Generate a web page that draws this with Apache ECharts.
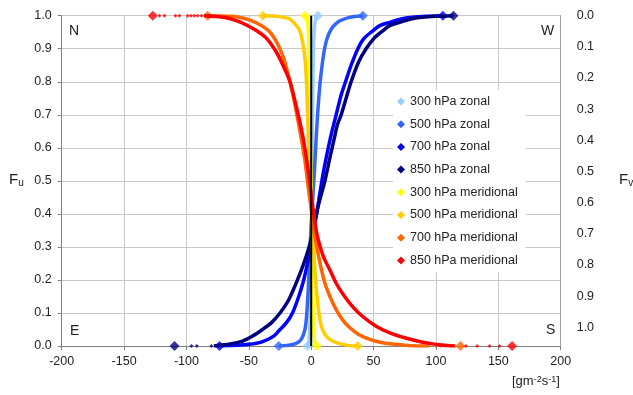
<!DOCTYPE html>
<html>
<head>
<meta charset="utf-8">
<script src="https://cdn.jsdelivr.net/npm/echarts@6/dist/echarts.min.js"></script>
<style>
  html, body { margin: 0; padding: 0; background: #fff; }
  #chart { width: 633px; height: 395px; }
</style>
</head>
<body>
<div id="chart"></div>
<script>
// series names + colours (legend order)
const names = ['300 hPa zonal', '500 hPa zonal', '700 hPa zonal', '850 hPa zonal',
  '300 hPa meridional', '500 hPa meridional', '700 hPa meridional', '850 hPa meridional']
const colors = ['#99CCFF', '#3366FF', '#0000FF', '#000080', '#FFFF00', '#FFCC00', '#FF6600', '#FF0000']

// cumulative curves, [flux, F]  (zonal rising, meridional falling)
const zonal300 = [[-3, 0], [-2, 0.01], [-1.2, 0.05], [-0.5, 0.15], [0, 0.3], [0.6, 0.5], [1.2, 0.75], [2, 0.92], [3, 0.98], [4, 0.995], [5.3, 1]]
const zonal500 = [[-26, 0], [-18, 0.002], [-12, 0.008], [-8, 0.02], [-5, 0.05], [-3.5, 0.1], [-2, 0.2], [-0.5, 0.33], [1, 0.43], [2.6, 0.53], [4, 0.63], [5.3, 0.71], [7.2, 0.8], [10.7, 0.9], [14.7, 0.95], [21, 0.98], [30.7, 0.995], [41.4, 1]]
const zonal700 = [[-73.5, 0], [-60, 0.002], [-50, 0.005], [-40, 0.012], [-30, 0.03], [-25, 0.05], [-20, 0.07], [-15, 0.1], [-10, 0.15], [-6, 0.2], [-3, 0.25], [0, 0.3], [3, 0.37], [6, 0.44], [9, 0.51], [12, 0.57], [16, 0.64], [20, 0.7], [24, 0.76], [27.5, 0.8], [32, 0.85], [37.4, 0.9], [42, 0.93], [48, 0.95], [55, 0.97], [63, 0.98], [72, 0.99], [81, 0.995], [92, 0.998], [105.5, 1]]
const zonal850 = [[-78, 0], [-65, 0.006], [-55, 0.015], [-47, 0.03], [-39, 0.05], [-32, 0.07], [-25, 0.1], [-18, 0.14], [-11, 0.2], [-5, 0.26], [-1, 0.31], [2, 0.36], [6, 0.43], [11, 0.5], [15, 0.57], [18, 0.62], [21, 0.67], [24, 0.7], [28, 0.75], [32, 0.8], [38, 0.86], [44, 0.9], [50, 0.93], [56, 0.95], [63, 0.97], [71, 0.98], [80, 0.99], [89, 0.995], [100, 0.998], [114, 1]]
const merid300 = [[-5, 1], [-3.5, 0.995], [-2.5, 0.97], [-1.8, 0.9], [-1, 0.7], [0, 0.5], [0.8, 0.3], [1.5, 0.12], [2.2, 0.04], [3, 0.01], [4.5, 0]]
const merid500 = [[-38.8, 1], [-30, 0.999], [-22, 0.995], [-17, 0.99], [-13, 0.975], [-10, 0.96], [-8, 0.94], [-6, 0.9], [-4.5, 0.85], [-3.3, 0.75], [-2.2, 0.62], [-1, 0.5], [0.5, 0.4], [2, 0.3], [3.5, 0.2], [5.5, 0.12], [7, 0.08], [9, 0.05], [12, 0.03], [15, 0.02], [20, 0.01], [25, 0.005], [31, 0.001], [37.4, 0]]
const merid700 = [[-83, 1], [-63, 0.998], [-55, 0.993], [-48, 0.985], [-40, 0.97], [-33, 0.95], [-27, 0.915], [-22, 0.87], [-17, 0.8], [-13, 0.73], [-9, 0.65], [-5, 0.56], [-2, 0.47], [0.5, 0.4], [2.6, 0.34], [5, 0.29], [8, 0.235], [11, 0.19], [15, 0.15], [20, 0.11], [25, 0.08], [31, 0.055], [38, 0.035], [47, 0.02], [57, 0.01], [68, 0.005], [80, 0.001], [95, 0]]
const merid850 = [[-86, 1], [-70, 0.995], [-60, 0.985], [-52, 0.972], [-44, 0.955], [-36, 0.932], [-28, 0.89], [-22, 0.845], [-17, 0.8], [-11, 0.71], [-6, 0.62], [-2, 0.52], [1, 0.43], [4.5, 0.34], [8, 0.29], [11, 0.26], [15, 0.23], [20, 0.19], [25, 0.16], [33, 0.12], [41, 0.09], [52, 0.06], [63, 0.04], [75, 0.025], [85, 0.015], [95, 0.008], [105, 0.003], [115, 0]]
const curves = [zonal300, zonal500, zonal700, zonal850, merid300, merid500, merid700, merid850]

// extreme values (big diamonds)
const leftEnds = [-3, -26, -73.5, -109.6, -5, -38.8, -83, -127]
const rightEnds = [5.3, 41.4, 105.5, 114, 4.5, 37.4, 119.7, 161]

// sparse tail points (small markers)
const tailsLeft = [[], [], [], [-96, -91.7, -80], [], [], [], [-121.6, -117.6, -108.8, -105.6, -99, -96.3, -93.7, -91, -88]]
const tailsRight = [[], [], [], [], [], [], [100, 104, 108, 112, 115], [124, 133, 143, 151]]

const font = "'Liberation Sans', Arial, sans-serif"
const txt = '#222'

const chart = echarts.init(document.getElementById('chart'), null, { renderer: 'canvas' })

let series = []
curves.forEach((c, i) => {
  const zonal = i < 4
  series.push({
    name: names[i],
    type: 'line',
    data: c,
    smooth: 0.25,
    showSymbol: false,
    lineStyle: { width: 3.5, color: colors[i] },
    itemStyle: { color: colors[i] },
    z: 3 + i
  })
  // tails: y is 0 on the left for zonal, 1 for meridional
  const yl = zonal ? 0 : 1
  const yr = zonal ? 1 : 0
  let dots = tailsLeft[i].map(x => [x, yl]).concat(tailsRight[i].map(x => [x, yr]))
  series.push({
    name: names[i],
    type: 'scatter',
    symbol: 'diamond',
    symbolSize: 4,
    data: dots,
    itemStyle: { color: colors[i] },
    z: 3 + i
  })
  series.push({
    name: names[i],
    type: 'scatter',
    symbol: 'diamond',
    symbolSize: 10,
    data: [[leftEnds[i], yl], [rightEnds[i], yr]],
    itemStyle: { color: colors[i] },
    z: 3 + i
  })
})
// black zero line
series.push({
  type: 'line',
  data: [[0, 0], [0, 1]],
  showSymbol: false,
  silent: true,
  lineStyle: { width: 2, color: '#000' },
  z: 20
})

const option = {
  animation: false,
  textStyle: { fontFamily: font },
  grid: { left: 61.7, right: 72.3, top: 15.7, bottom: 49 },
  legend: {
    data: names.map(n => ({ name: n, icon: 'diamond' })),
    orient: 'vertical',
    left: 393,
    top: 90,
    padding: [5, 8, 5, 4],
    itemWidth: 8,
    itemHeight: 8,
    itemGap: 9.7,
    backgroundColor: '#fff',
    textStyle: { fontSize: 12.5, color: txt, fontFamily: font },
    selectedMode: false
  },
  xAxis: {
    type: 'value',
    min: -200,
    max: 200,
    interval: 50,
    axisLine: { show: true, onZero: false, lineStyle: { color: '#808080', width: 1 } },
    axisTick: { show: true, length: 4, lineStyle: { color: '#808080' } },
    axisLabel: { fontSize: 12.5, color: txt, margin: 9, fontFamily: font },
    splitLine: { show: true, lineStyle: { color: '#c8c8c8', width: 1 } }
  },
  yAxis: [{
    type: 'value',
    min: 0,
    max: 1,
    interval: 0.1,
    axisLine: { show: true, onZero: false, lineStyle: { color: '#808080' } },
    axisTick: { show: true, length: 4, lineStyle: { color: '#808080' } },
    axisLabel: { fontSize: 12.5, color: txt, margin: 10, fontFamily: font, formatter: v => v.toFixed(1) },
    splitLine: { show: true, lineStyle: { color: '#c8c8c8', width: 1 } }
  }, {
    type: 'value',
    position: 'right',
    inverse: true,
    min: 0,
    max: 1.06,
    interval: 0.1,
    axisLine: { show: true, onZero: false, lineStyle: { color: '#a0a0a0' } },
    axisTick: { show: false },
    axisLabel: { fontSize: 12.5, color: txt, margin: 16, fontFamily: font,
      formatter: v => (v > 1.001 ? '' : v.toFixed(1)) },
    splitLine: { show: false }
  }],
  graphic: [
    { type: 'text', left: 9, top: 172, style: { text: '{f|F}{s|u}', rich: { f: { fontSize: 15, fontFamily: font, fill: txt, lineHeight: 18 }, s: { fontSize: 10, fontFamily: font, fill: txt, verticalAlign: 'bottom', lineHeight: 12 } } } },
    { type: 'text', left: 619, top: 172, style: { text: '{f|F}{s|v}', rich: { f: { fontSize: 15, fontFamily: font, fill: txt, lineHeight: 18 }, s: { fontSize: 10, fontFamily: font, fill: txt, verticalAlign: 'bottom', lineHeight: 12 } } } },
    { type: 'text', left: 69, top: 24, style: { text: 'N', fontSize: 14, fontFamily: font, fill: txt } },
    { type: 'text', left: 541, top: 24, style: { text: 'W', fontSize: 14, fontFamily: font, fill: txt } },
    { type: 'text', left: 70, top: 324, style: { text: 'E', fontSize: 14, fontFamily: font, fill: txt } },
    { type: 'text', left: 546, top: 323, style: { text: 'S', fontSize: 14, fontFamily: font, fill: txt } },
    { type: 'text', left: 512, top: 375, style: { text: '[gm{s|-2}s{s|-1}]', fontSize: 13, fontFamily: font, fill: txt, rich: { s: { fontSize: 9, fontFamily: font, fill: txt, verticalAlign: 'top', lineHeight: 9 } } } }
  ],
  series: series
}
chart.setOption(option)
</script>
</body>
</html>
